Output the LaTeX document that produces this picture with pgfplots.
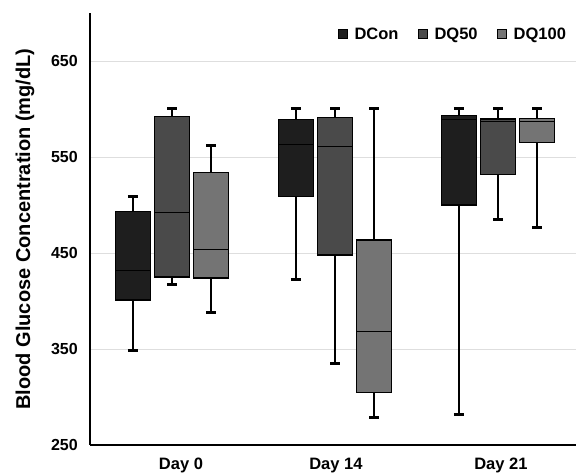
\documentclass[border=0pt]{standalone}
\usepackage{pgfplots}
\pgfplotsset{compat=1.18}
\usepackage{fontspec}
\setmainfont{Liberation Sans}
\definecolor{cA}{HTML}{1E1E1E}
\definecolor{cB}{HTML}{4A4A4A}
\definecolor{cC}{HTML}{747474}
\begin{document}
\begin{tikzpicture}
\begin{axis}[
  scale only axis, width=486pt, height=432pt,
  xmin=0.497, xmax=3.479, ymin=250, ymax=700,
  axis x line*=bottom, axis y line*=left,
  axis line style={line width=1.2pt, black},
  xtick={1.055,2.006,3.018}, xticklabels={Day 0,Day 14,Day 21},
  ytick={250,350,450,550,650},
  major tick length=0pt,
  ymajorgrids, grid style={black!13, line width=0.8pt},
  tick label style={font=\fontsize{16}{19}\selectfont\bfseries},
  /pgf/number format/assume math mode=true,
  yticklabel style={anchor=east, inner sep=0pt, xshift=-12pt},
  xticklabel style={anchor=north, inner sep=0pt, yshift=-13pt, font=\fontsize{16.5}{19}\selectfont\bfseries},
  ylabel={Blood Glucose Concentration (mg/dL)},
  ylabel style={font=\fontsize{20}{23}\selectfont\bfseries, at={(axis description cs:0,0.5)}, yshift=65pt, anchor=center},
  unbounded coords=jump,
  legend style={draw=none, fill=none, at={(0.99,0.951)}, anchor=east, legend columns=-1,
    font=\fontsize{16.5}{19}\selectfont\bfseries,
    /tikz/every odd column/.append style={column sep=5pt},
    /tikz/every even column/.append style={column sep=17pt}},
]
% whiskers (lower whisker to upper whisker)
\addplot[black, line width=1.4pt, forget plot] coordinates {
 (0.76,348) (0.76,509) (0.76,nan)
 (1.00,417) (1.00,600) (1.00,nan)
 (1.24,388) (1.24,562) (1.24,nan)
 (1.76,422) (1.76,600) (1.76,nan)
 (2.00,335) (2.00,600) (2.00,nan)
 (2.24,279) (2.24,600) (2.24,nan)
 (2.76,282) (2.76,600) (2.76,nan)
 (3.00,485) (3.00,600) (3.00,nan)
 (3.24,476.5) (3.24,600)
};
% whisker caps
\addplot[black, line width=3pt, forget plot] coordinates {
 (0.73,348) (0.79,348) (0.79,nan) (0.73,509) (0.79,509) (0.79,nan)
 (0.97,417) (1.03,417) (1.03,nan) (0.97,600) (1.03,600) (1.03,nan)
 (1.21,388) (1.27,388) (1.27,nan) (1.21,562) (1.27,562) (1.27,nan)
 (1.73,422) (1.79,422) (1.79,nan) (1.73,600) (1.79,600) (1.79,nan)
 (1.97,335) (2.03,335) (2.03,nan) (1.97,600) (2.03,600) (2.03,nan)
 (2.21,279) (2.27,279) (2.27,nan) (2.21,600) (2.27,600) (2.27,nan)
 (2.73,282) (2.79,282) (2.79,nan) (2.73,600) (2.79,600) (2.79,nan)
 (2.97,485) (3.03,485) (3.03,nan) (2.97,600) (3.03,600) (3.03,nan)
 (3.21,476.5) (3.27,476.5) (3.27,nan) (3.21,600) (3.27,600)
};
% boxes (lower quartile to upper quartile)
\addplot[fill=cA, draw=black, line width=1.2pt, forget plot] coordinates {(0.6525,401) (0.8675,401) (0.8675,493) (0.6525,493)} -- cycle;
\addplot[fill=cB, draw=black, line width=1.2pt, forget plot] coordinates {(0.8925,425) (1.1075,425) (1.1075,592) (0.8925,592)} -- cycle;
\addplot[fill=cC, draw=black, line width=1.2pt, forget plot] coordinates {(1.1325,424) (1.3475,424) (1.3475,534) (1.1325,534)} -- cycle;
\addplot[fill=cA, draw=black, line width=1.2pt, forget plot] coordinates {(1.6525,509) (1.8675,509) (1.8675,589) (1.6525,589)} -- cycle;
\addplot[fill=cB, draw=black, line width=1.2pt, forget plot] coordinates {(1.8925,448) (2.1075,448) (2.1075,591) (1.8925,591)} -- cycle;
\addplot[fill=cC, draw=black, line width=1.2pt, forget plot] coordinates {(2.1325,304.5) (2.3475,304.5) (2.3475,463.5) (2.1325,463.5)} -- cycle;
\addplot[fill=cA, draw=black, line width=1.2pt, forget plot] coordinates {(2.6525,500) (2.8675,500) (2.8675,593) (2.6525,593)} -- cycle;
\addplot[fill=cB, draw=black, line width=1.2pt, forget plot] coordinates {(2.8925,531.5) (3.1075,531.5) (3.1075,589.5) (2.8925,589.5)} -- cycle;
\addplot[fill=cC, draw=black, line width=1.2pt, forget plot] coordinates {(3.1325,565) (3.3475,565) (3.3475,590.5) (3.1325,590.5)} -- cycle;
% medians
\addplot[black, line width=0.9pt, forget plot] coordinates {
 (0.6525,432) (0.8675,432) (0.8675,nan)
 (0.8925,492) (1.1075,492) (1.1075,nan)
 (1.1325,454) (1.3475,454) (1.3475,nan)
 (1.6525,563) (1.8675,563) (1.8675,nan)
 (1.8925,561) (2.1075,561) (2.1075,nan)
 (2.1325,368) (2.3475,368) (2.3475,nan)
 (2.6525,589) (2.8675,589) (2.8675,nan)
 (2.8925,587) (3.1075,587) (3.1075,nan)
 (3.1325,587.5) (3.3475,587.5)
};
\addlegendimage{legend image code/.code={\draw[fill=cA, draw=black, line width=1pt] (0pt,-4.5pt) rectangle (9pt,4.5pt);}}
\addlegendentry{DCon}
\addlegendimage{legend image code/.code={\draw[fill=cB, draw=black, line width=1pt] (0pt,-4.5pt) rectangle (9pt,4.5pt);}}
\addlegendentry{DQ50}
\addlegendimage{legend image code/.code={\draw[fill=cC, draw=black, line width=1pt] (0pt,-4.5pt) rectangle (9pt,4.5pt);}}
\addlegendentry{DQ100}
\end{axis}
\pgfresetboundingbox
\path ([shift={(-90pt,-28pt)}]current axis.south west) rectangle ([shift={(0pt,13pt)}]current axis.north east);
\end{tikzpicture}
\end{document}
